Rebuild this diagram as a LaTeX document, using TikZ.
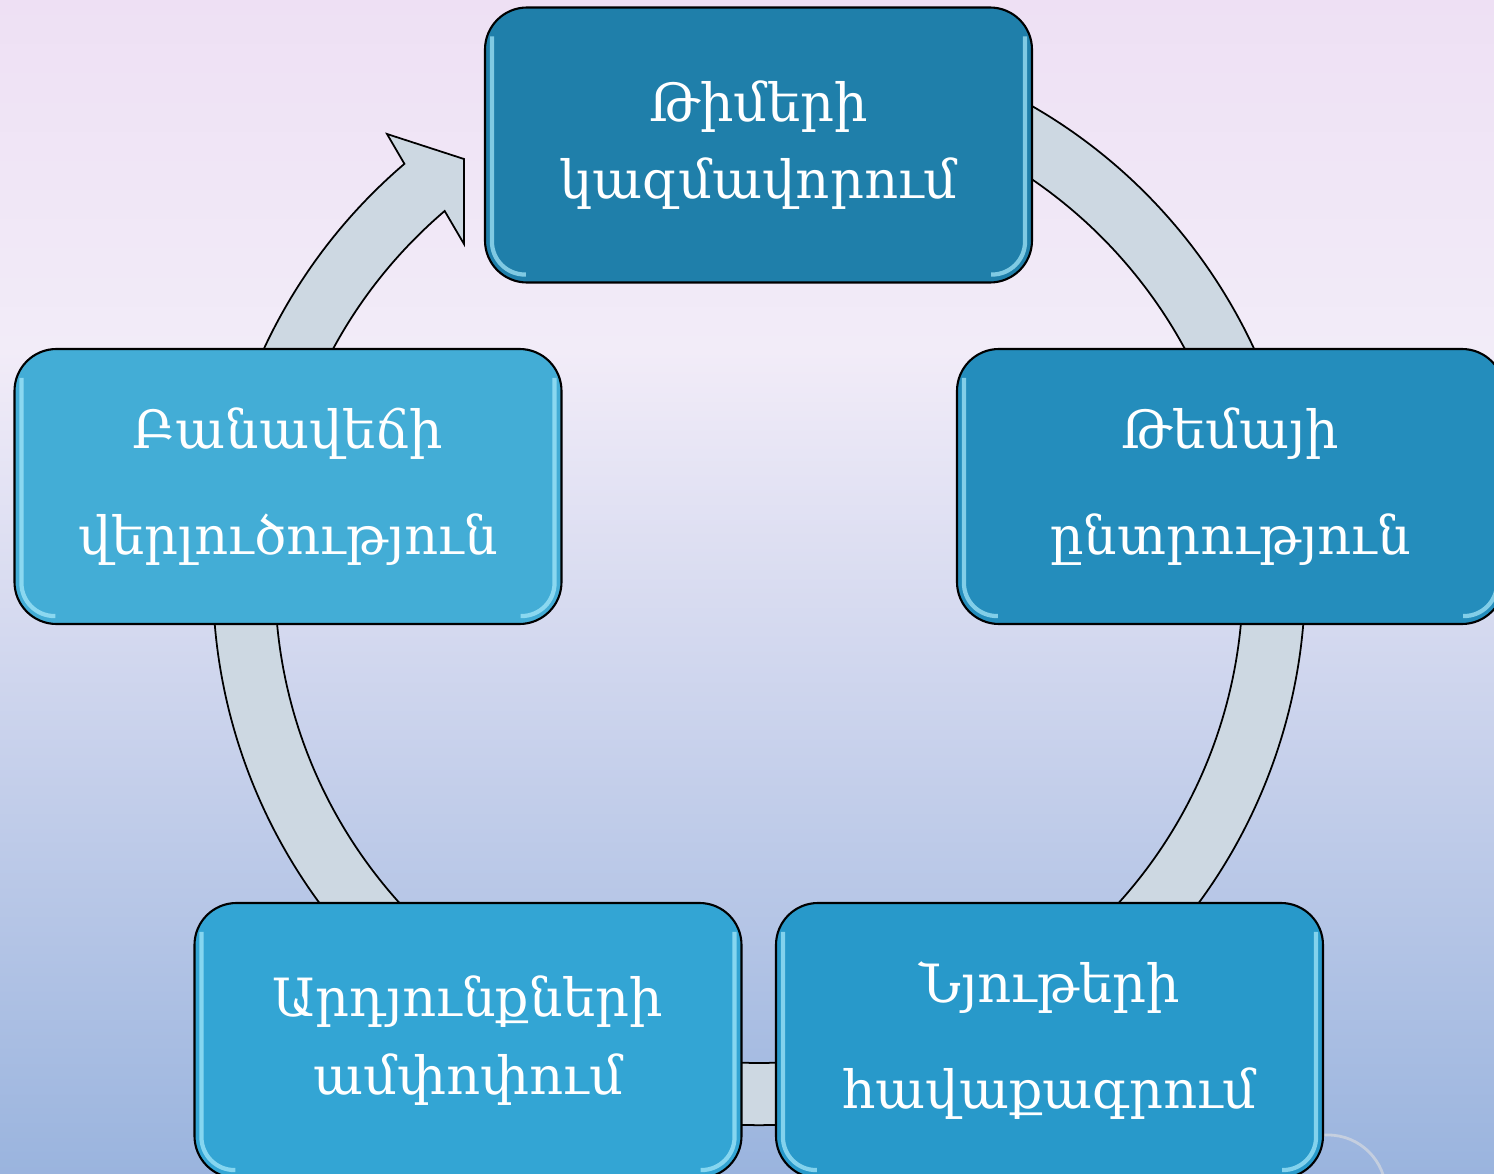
\documentclass[tikz,border=0pt]{standalone}
\usepackage{fontspec}
\newfontfamily\armfont{DejaVu Serif}
\usepackage{tikz}
\usetikzlibrary{positioning, calc}
\definecolor{bgtop}{RGB}{238, 224, 244}
\definecolor{bgmid}{RGB}{242, 236, 248}
\definecolor{bgbottom}{RGB}{154, 180, 222}
\definecolor{ringcolor}{RGB}{205, 216, 226}
\definecolor{teamcolor}{RGB}{31, 127, 170}
\definecolor{topiccolor}{RGB}{36, 141, 188}
\definecolor{materialcolor}{RGB}{40, 153, 202}
\definecolor{resultcolor}{RGB}{51, 165, 212}
\definecolor{debatecolor}{RGB}{67, 173, 214}
\definecolor{glosscolor}{RGB}{170, 235, 252}

\tikzset{
    stagebox/.style={draw=black, line width=0.6pt, rounded corners=0.42cm,
        minimum width=5.47cm, minimum height=2.75cm, text=white, align=center,
        font=\armfont\fontsize{15}{22}\selectfont},
    widelines/.style={font=\armfont\fontsize{15}{30}\selectfont},
    ring/.style={draw=black, line width=0.5pt, fill=ringcolor},
    gloss/.style={glosscolor, line width=1.2pt, opacity=0.7, rounded corners=0.33cm}
}

\begin{document}
\begin{tikzpicture}
    \clip (0,0) rectangle (14.94,11.74);
    % Background
    \shade[top color=bgtop, bottom color=bgmid] (0,8.24) rectangle (14.94,11.74);
    \shade[top color=bgmid, bottom color=bgbottom] (0,0) rectangle (14.94,8.24);
    \draw[white!75!gray, line width=0.8pt, opacity=0.6] (13.28,-0.19) circle (0.58);

    % Cycle ring with arrow head
    \coordinate (hub) at (7.59,5.95);
    \draw[ring] ($(hub)+(70:5.46)$) arc[start angle=70, end angle=-229.5, radius=5.46]
        -- (3.87,10.40) -- (4.64,10.15) -- (4.64,9.30)
        -- ($(hub)+(130.5:4.84)$) arc[start angle=-229.5, end angle=70, radius=4.84] -- cycle;

    % Stages
    \node[stagebox, fill=teamcolor] (teams) at (7.585,10.29) {Թիմերի\\կազմավորում};
    \node[stagebox, widelines, fill=topiccolor] (topic) at (12.305,6.875) {Թեմայի\\ընտրություն};
    \node[stagebox, widelines, fill=materialcolor] (material) at (10.495,1.335) {Նյութերի\\հավաքագրում};
    \node[stagebox, fill=resultcolor] (results) at (4.68,1.335) {Արդյունքների\\ամփոփում};
    \node[stagebox, widelines, fill=debatecolor] (debate) at (2.88,6.875) {Բանավեճի\\վերլուծություն};

    % Glossy edges
    \foreach \n in {teams, topic, material, results, debate} {
        \draw[gloss] ($(\n.north west)+(0.08,-0.3)$) -- ($(\n.south west)+(0.08,0.09)$) -- ($(\n.south west)+(0.42,0.09)$);
        \draw[gloss] ($(\n.north east)+(-0.08,-0.3)$) -- ($(\n.south east)+(-0.08,0.09)$) -- ($(\n.south east)+(-0.42,0.09)$);
    }
\end{tikzpicture}
\end{document}
